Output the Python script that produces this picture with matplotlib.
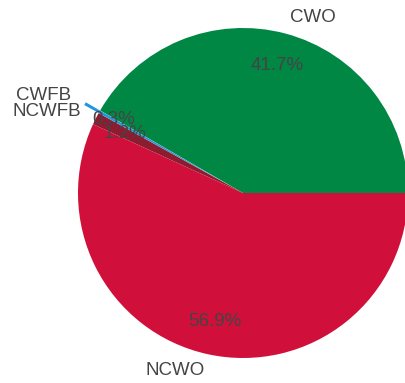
import matplotlib
matplotlib.use("Agg")
import matplotlib.pyplot as plt

labels = ["CWO", "CWFB", "NCWFB", "NCWO"]
shares = [41.7, 0.3, 1.2, 56.9]
colors = ["#018744", "#1f97dc", "#8c1c2f", "#d0103a"]
explode = [0, 0.1, 0, 0]

plt.rcParams["font.family"] = ["Liberation Sans", "DejaVu Sans"]

total = sum(shares)


def share_label(pct):
    return f"{pct * total / 100:.1f}%"


fig = plt.figure(figsize=(4.06, 3.83), dpi=100)
ax = fig.add_axes([0, 0, 1, 1])
wedges, texts, autotexts = ax.pie(
    shares, labels=labels, colors=colors, explode=explode,
    startangle=0, counterclock=True, autopct=share_label,
    pctdistance=0.8, labeldistance=1.1,
    textprops={"fontsize": 13.5, "color": "#444444"},
)
ax.set_aspect("auto")
ax.set_xlim(-243 / 165, 163 / 165)
ax.set_ylim(-190 / 165, 193 / 165)
ax.axis("off")
fig.savefig("out.png", dpi=100)
